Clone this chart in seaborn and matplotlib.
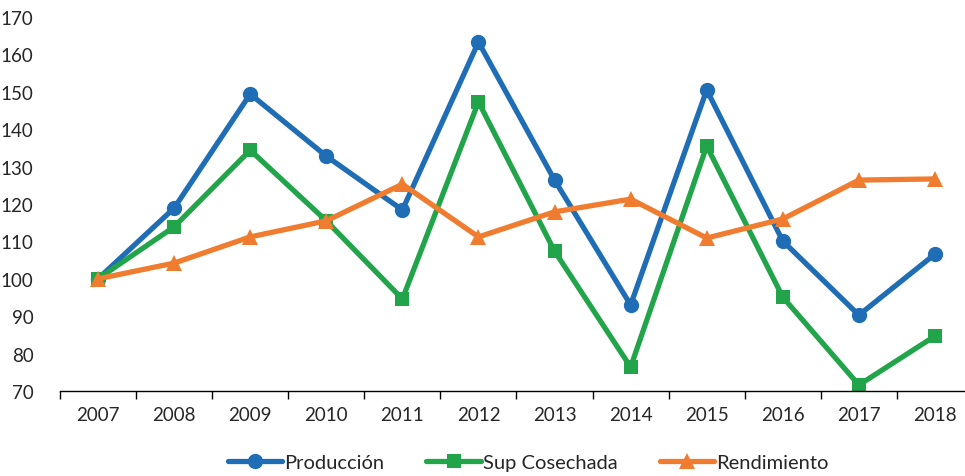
import pandas as pd
import matplotlib.pyplot as plt
import seaborn as sns

years = ["2007", "2008", "2009", "2010", "2011", "2012",
         "2013", "2014", "2015", "2016", "2017", "2018"]
produccion = [100, 118.9, 149.4, 132.8, 118.4, 163.3, 126.4, 93.0, 150.5, 110.1, 90.3, 106.6]
sup_cosechada = [100, 113.9, 134.4, 115.5, 94.6, 147.3, 107.4, 76.4, 135.5, 95.1, 71.6, 84.7]
rendimiento = [100, 104.2, 111.2, 115.5, 125.3, 111.2, 117.9, 121.3, 110.9, 116.0, 126.4, 126.7]

series = [
    ("Producción", produccion, "#1F6EB5", "o"),
    ("Sup Cosechada", sup_cosechada, "#22A44A", "s"),
    ("Rendimiento", rendimiento, "#EF7C2F", "^"),
]

sns.set_style("white")
plt.rcParams["font.family"] = ["Lato", "DejaVu Sans"]

fig = plt.figure(figsize=(9.65, 4.77), dpi=100)
ax = fig.add_axes([60 / 965, 85 / 477, 913 / 965, 374 / 477])

for name, vals, color, marker in series:
    df = pd.DataFrame({"x": range(len(years)), "y": vals})
    sns.lineplot(data=df, x="x", y="y", ax=ax, color=color, marker=marker,
                 linewidth=3.8, markersize=11 if marker != "s" else 10,
                 markeredgewidth=0, label=name)

ax.set_xlim(-0.5, len(years) - 0.5)
ax.set_ylim(70, 170)
ax.set_yticks(range(70, 171, 10))
ax.set_xticks(range(len(years)))
ax.set_xticklabels(years)
ax.set_xticks([i - 0.5 for i in range(len(years) + 1)], minor=True)
ax.tick_params(axis="x", which="major", length=0, pad=11, labelsize=13.5)
ax.tick_params(axis="x", which="minor", bottom=True, length=6, width=1,
               color="black", direction="out")
ax.tick_params(axis="y", length=0, pad=19, labelsize=13.5)
ax.set_xlabel("")
ax.set_ylabel("")

for side in ["left", "right", "top"]:
    ax.spines[side].set_visible(False)
ax.spines["bottom"].set_color("black")
ax.spines["bottom"].set_linewidth(1)

ax.get_legend().remove()
handles, labels = ax.get_legend_handles_labels()
fig.legend(handles, labels, loc="center", bbox_to_anchor=(528 / 965, 1 - 463 / 477),
           ncol=3, frameon=False, fontsize=14.5, handlelength=2.7,
           handletextpad=0.1, columnspacing=2.1)

fig.savefig("out.png", dpi=100)
